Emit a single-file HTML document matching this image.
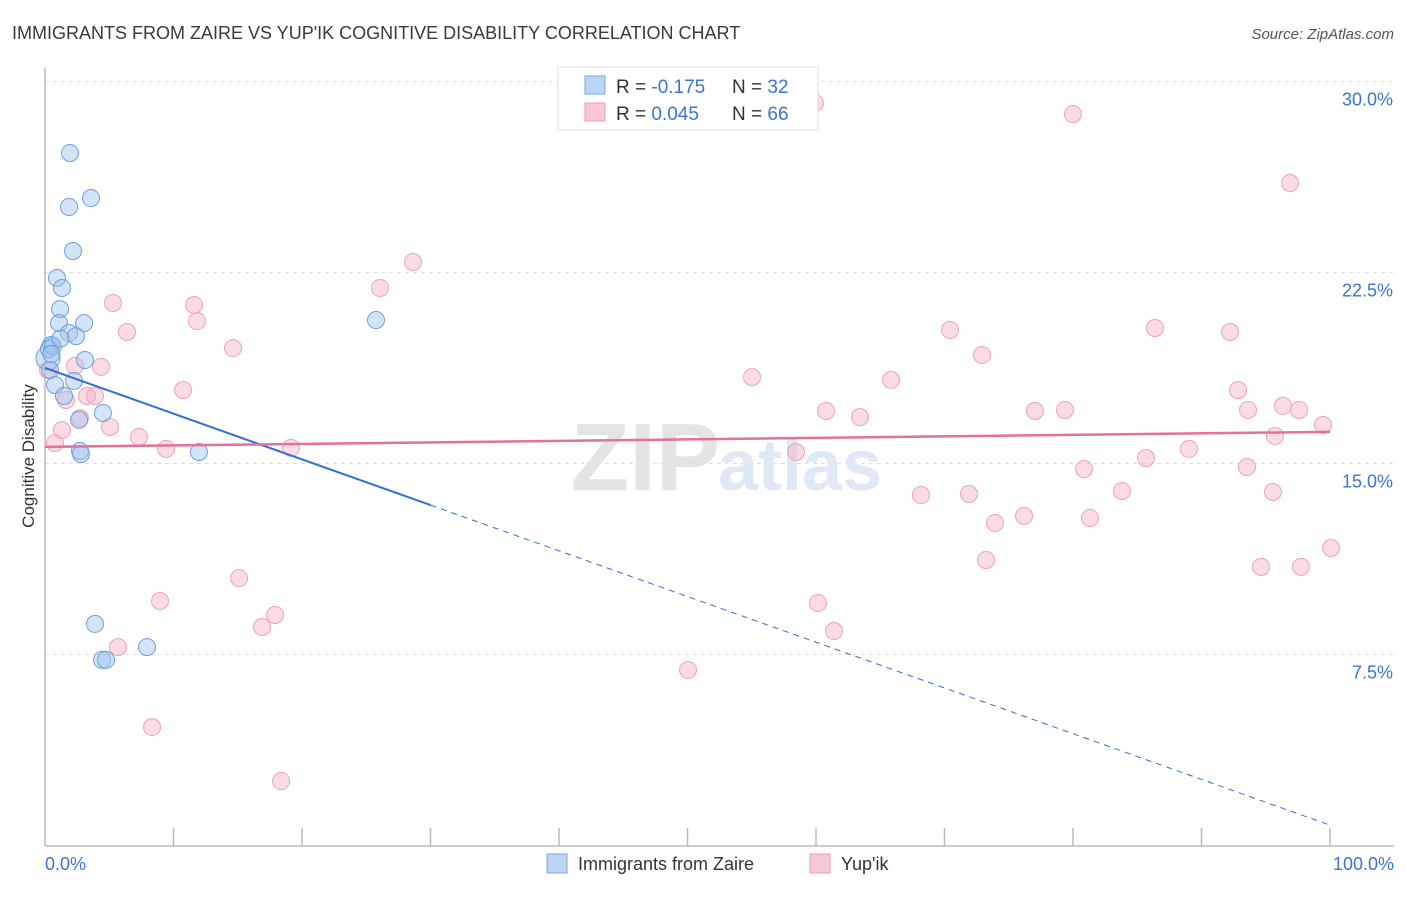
<!DOCTYPE html>
<html><head><meta charset="utf-8"><style>
body{margin:0;background:#fff;font-family:"Liberation Sans",sans-serif;}
svg text{font-family:"Liberation Sans",sans-serif;}
</style></head><body>
<svg id="chart" width="1406" height="892">
<text x="12" y="39" font-size="18" fill="#3a3a3a">IMMIGRANTS FROM ZAIRE VS YUP'IK COGNITIVE DISABILITY CORRELATION CHART</text>
<text x="1394" y="39" font-size="15" fill="#555" font-style="italic" text-anchor="end">Source: ZipAtlas.com</text>
<g id="grid"></g>
<text x="720" y="490" font-size="96" font-family="Liberation Serif" fill="#e4e4e4" text-anchor="end" font-weight="bold">ZIP</text>
<text x="718" y="490" font-size="72" fill="#dfe8f5" font-weight="bold">atlas</text>
<line x1="45" y1="68" x2="45" y2="846" stroke="#bbb" stroke-width="1.5"/>
<line x1="45" y1="846" x2="1394" y2="846" stroke="#bbb" stroke-width="1.5"/>
<g id="ticks"></g>
<text x="34" y="456" font-size="17" fill="#333" text-anchor="middle" transform="rotate(-90 34 456)">Cognitive Disability</text>
<text x="45" y="870" font-size="18" fill="#3b74d4">0.0%</text>
<text x="1394" y="870" font-size="18" fill="#3b74d4" text-anchor="end">100.0%</text>
<g id="pts"></g>
<g id="trends"></g>
<g>
<rect x="558" y="67" width="260" height="63" fill="#fff" stroke="#ddd"/>
<rect x="585" y="76" width="20" height="18" fill="#bcd5f5" stroke="#7aa6e6"/>
<rect x="585" y="103" width="20" height="18" fill="#f9c8d6" stroke="#ee9ab3"/>
<text x="616" y="93" font-size="19" fill="#333">R = <tspan fill="#3b74d4">-0.175</tspan></text>
<text x="732" y="93" font-size="19" fill="#333">N = <tspan fill="#3b74d4">32</tspan></text>
<text x="616" y="120" font-size="19" fill="#333">R = <tspan fill="#3b74d4">0.045</tspan></text>
<text x="732" y="120" font-size="19" fill="#333">N = <tspan fill="#3b74d4">66</tspan></text>
</g>
<g>
<rect x="547" y="854" width="20" height="19" fill="#bcd5f5" stroke="#7aa6e6"/>
<text x="578" y="870" font-size="18" fill="#333">Immigrants from Zaire</text>
<rect x="810" y="854" width="20" height="19" fill="#f9c8d6" stroke="#ee9ab3"/>
<text x="841" y="870" font-size="18" fill="#333">Yup'ik</text>
</g>
</svg>
<script>
const yTicks=[7.5,15,22.5,30];
const yTickLabels=["7.5%","15.0%","22.5%","30.0%"];
const xTicks=[10,20,30,40,50,60,70,80,90,100];
const zaireX=[1.95,1.87,3.58,2.18,0.93,1.32,1.17,1.09,3.04,1.87,2.41,0.47,0.23,3.11,0.39,2.26,0.78,1.48,4.51,2.65,2.72,2.80,11.98,25.76,3.89,4.44,4.75,7.94,0.31,0.62,0.5,1.2];
const zaireY=[27.19,25.07,25.42,23.34,22.28,21.89,21.06,20.51,20.51,20.12,20.00,19.65,19.14,19.06,18.67,18.24,18.08,17.65,16.98,16.71,15.49,15.37,15.45,20.63,8.70,7.29,7.29,7.79,19.5,19.6,19.3,19.9];
const yupikX=[0.78,1.32,2.33,0.23,1.63,2.72,3.27,3.89,4.36,5.29,5.06,6.38,7.32,9.42,10.74,11.60,11.83,14.63,15.10,8.95,5.68,8.33,16.89,17.90,18.37,19.14,26.07,28.64,50.04,55.02,59.92,60.16,60.78,61.40,63.42,65.84,68.17,70.43,71.91,72.92,73.23,73.93,76.19,77.04,79.38,80.00,80.86,81.32,83.81,85.68,86.38,89.03,92.22,92.84,93.54,93.62,94.63,95.56,95.72,96.34,96.89,97.59,97.74,99.46,100.08,58.44];
const yupikY=[15.80,16.31,18.83,18.67,17.49,16.78,17.65,17.65,18.79,21.30,16.43,20.16,16.04,15.57,17.88,21.22,20.59,19.53,10.50,9.60,7.79,4.65,8.58,9.05,2.53,15.61,21.89,22.91,6.89,18.39,29.15,9.52,17.06,8.42,16.82,18.28,13.76,20.24,13.80,19.26,11.21,12.66,12.94,17.06,17.10,28.72,14.78,12.86,13.92,15.21,20.32,15.57,20.16,17.88,14.86,17.10,10.94,13.88,16.08,17.26,26.01,17.10,10.94,16.51,11.68,15.45];
const zaireTrend=[18.75,0.80];
const yupikTrend=[15.65,16.24];
const NS="http://www.w3.org/2000/svg";
const sx=v=>45+v*12.85;
const sy=v=>845.5-v*25.47;
function mk(tag,attrs,parent){const e=document.createElementNS(NS,tag);for(const k in attrs)e.setAttribute(k,attrs[k]);document.getElementById(parent).appendChild(e);return e;}
yTicks.forEach((t,i)=>{
 const l=mk('line',{x1:45,x2:1394,y1:sy(t),y2:sy(t),stroke:'#ddd','stroke-dasharray':'4,4'},'grid');
 
 
 const tx=mk('text',{x:1393,y:sy(t)+24,'font-size':18,fill:'#3b74d4','text-anchor':'end'},'grid');
 tx.textContent=yTickLabels[i];
 
 
});
xTicks.forEach(t=>{
 const l=mk('line',{x1:sx(t),x2:sx(t),y1:828,y2:846,stroke:'#bbb','stroke-width':1.5},'ticks');
 
 
});
yupikX.forEach((x,i)=>{
 const c=mk('circle',{cx:sx(x),cy:sy(yupikY[i]),r:8.5,fill:'rgba(246,176,198,0.45)',stroke:'#eea2b9','stroke-width':1},'pts');
 
 
});
zaireX.forEach((x,i)=>{
 const c=mk('circle',{cx:sx(x),cy:sy(zaireY[i]),r:i==12?12:8.5,fill:'rgba(160,196,240,0.45)',stroke:'#6f9fe0','stroke-width':1},'pts');
 
 
});
const zy=x=>zaireTrend[0]+(zaireTrend[1]-zaireTrend[0])*x/100;
const l1=mk('line',{x1:sx(0),y1:sy(zy(0)),x2:sx(30),y2:sy(zy(30)),stroke:'#2f6fd6','stroke-width':2},'trends');


const l2=mk('line',{x1:sx(30),y1:sy(zy(30)),x2:sx(100),y2:sy(zy(100)),stroke:'#2f6fd6','stroke-width':1,'stroke-dasharray':'6,5'},'trends');


const l3=mk('line',{x1:sx(0),y1:sy(yupikTrend[0]),x2:sx(100),y2:sy(yupikTrend[1]),stroke:'#e5709a','stroke-width':2.5},'trends');


</script>
</body></html>
